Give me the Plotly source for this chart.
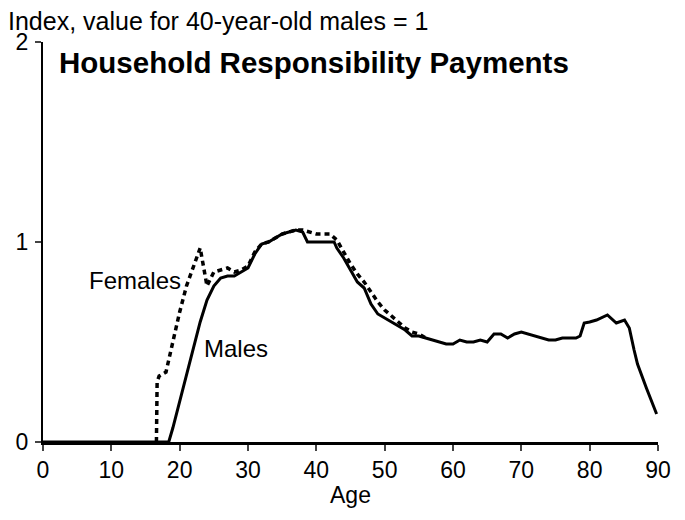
import plotly.graph_objects as go

# ========== DATA ==========
male_age = [0, 10, 18.4, 19, 20, 21, 22, 23, 24, 25, 26, 27, 28, 29, 30,
            31, 32, 33, 34, 35, 36, 37, 38, 38.7, 39, 40, 41, 42, 42.6, 43,
            44, 45, 46, 47, 48, 49, 50, 51, 52, 53, 54, 55, 56, 57, 58, 59,
            60, 61, 62, 63, 64, 65, 66, 67, 68, 69, 70, 71, 72, 73, 74, 75,
            76, 77, 78, 78.6, 79.2, 80, 81, 82.6, 83.9, 85.1, 85.8, 86.5, 87, 88.3, 89.8]
male_val = [0, 0, 0, 0.07, 0.2, 0.33, 0.47, 0.6, 0.71, 0.78, 0.82, 0.83, 0.83, 0.85, 0.87,
            0.94, 0.99, 1.0, 1.02, 1.04, 1.05, 1.06, 1.05, 1.0, 1.0, 1.0, 1.0, 1.0, 1.0, 0.97,
            0.92, 0.86, 0.8, 0.77, 0.69, 0.64, 0.62, 0.6, 0.58, 0.56, 0.53, 0.53, 0.52, 0.51, 0.5, 0.49,
            0.49, 0.51, 0.5, 0.5, 0.51, 0.5, 0.54, 0.54, 0.52, 0.54, 0.55, 0.54, 0.53, 0.52, 0.51, 0.51,
            0.52, 0.52, 0.52, 0.53, 0.595, 0.6, 0.61, 0.635, 0.595, 0.61, 0.57, 0.46, 0.39, 0.27, 0.14]

female_age = [16.6, 16.7, 17, 18, 19, 20, 21, 22, 23, 24, 25, 26, 27, 28, 29, 30,
              31, 32, 33, 34, 35, 36, 37, 38, 39, 40, 41, 42, 43, 44, 45, 46, 47, 48,
              49, 50, 51, 52, 53, 54, 55, 56]
female_val = [0, 0.3, 0.33, 0.35, 0.5, 0.65, 0.78, 0.88, 0.97, 0.78, 0.85, 0.86, 0.87, 0.85, 0.86, 0.88,
              0.95, 0.99, 1.0, 1.02, 1.04, 1.05, 1.06, 1.06, 1.05, 1.04, 1.04, 1.04, 1.01, 0.95, 0.89, 0.84, 0.8, 0.75,
              0.7, 0.66, 0.63, 0.6, 0.57, 0.55, 0.54, 0.52]

x_ticks = [0, 10, 20, 30, 40, 50, 60, 70, 80, 90]
y_ticks = [0, 1, 2]

FONT = "Liberation Sans, Arial, sans-serif"

# the page body adds an 8px margin, so the figure is drawn 8px smaller
fig = go.Figure()
fig.add_trace(go.Scatter(x=male_age, y=male_val, mode="lines", name="Males",
                         line=dict(color="black", width=3)))
fig.add_trace(go.Scatter(x=female_age, y=female_val, mode="lines", name="Females",
                         line=dict(color="black", width=3.5, dash="5px,4px")))

# series labels
fig.add_annotation(x=20.5, y=0.81, text="Females", showarrow=False,
                   xanchor="right", font=dict(size=24))
fig.add_annotation(x=23.3, y=0.47, text="Males", showarrow=False,
                   xanchor="left", font=dict(size=24))
fig.add_annotation(x=0.023, y=0.949, xref="paper", yref="paper",
                   text="<b>Household Responsibility Payments</b>", showarrow=False,
                   xanchor="left", yanchor="middle", font=dict(size=29.5))
fig.add_annotation(x=0.5, y=-0.1325, xref="paper", yref="paper", text="Age", showarrow=False,
                   xanchor="center", yanchor="middle", font=dict(size=23))
# unit note above the axis
fig.add_annotation(x=0.0, y=1.0, xref="paper", yref="paper", text="Index, value for 40-year-old males = 1",
                   showarrow=False, xanchor="left", yanchor="bottom", xshift=-37, yshift=5,
                   font=dict(size=25))

fig.update_layout(
    width=677, height=504,
    margin=dict(l=35, r=27, t=34, b=70),
    plot_bgcolor="white", paper_bgcolor="white",
    font=dict(family=FONT, size=23, color="black"),
    showlegend=False,
)
fig.update_xaxes(range=[0, 90], tickvals=x_ticks, ticks="outside", ticklen=6, tickwidth=2,
                 showline=True, linewidth=2.5, linecolor="black", showgrid=False, zeroline=False,
                 automargin=False)
fig.update_yaxes(range=[0, 2], tickvals=y_ticks, ticks="outside", ticklen=6, tickwidth=2,
                 showline=True, linewidth=2, linecolor="black", showgrid=False, zeroline=False,
                 automargin=False, ticklabelstandoff=2)

fig.write_html("out.html")
